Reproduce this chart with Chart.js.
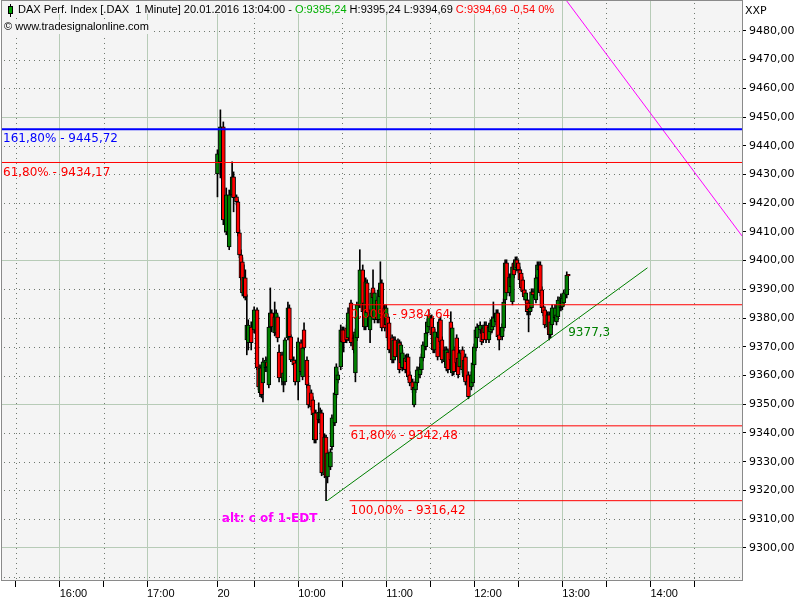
<!DOCTYPE html>
<html>
<head>
<meta charset="utf-8">
<script src="https://cdn.jsdelivr.net/npm/chart.js@4.4.1/dist/chart.umd.min.js"></script>
<style>
  html, body { margin: 0; padding: 0; background: #fff; }
  #wrap { width: 800px; height: 600px; }
</style>
</head>
<body>
<div id="wrap"><canvas id="chart" width="800" height="600"></canvas></div>
<script>
// minutes after 09:00 on 20.01.2016 (previous day negative)
const times = [5,7,9,11,13,15,16,18,19,20, 21,22,23,24,25,26,28,30,32,33,
  34,35,36,38,39,40,41,42,44,45, 46,47,49,50,51,53,54,55,57,58,
  60,62,63,64,66,67,69,70,71,72, 74,75,76,78,79,80,82,83,85,86,
  87,89,90,91,93,94,96,98,99,100, 102,104,105,106,107,109,110,111,112,114,
  115,116,117,119,120,121,122,124,125,126, 128,129,130,131,133,134,135,136,138,139,
  140,141,143,144,145,147,148,149,151,152, 153,155,156,157,158,160,161,162,164,165,
  166,168,169,170,172,173,174,176,178,179, 180,181,182,184,185,186,187,188,190,191,
  192,193,195,196,197,199,200,201,202,204, 205,206,207,208,209,210,211,212,213,214,
  215,216,217,218,219,220,222,223,224,225, 226,227,228,230,231,232,233,235,236,237,
  239,240,241,243,244];

const opens = [9430.2,9434.4,9446.6,9410.0,9404.8,9422.9,9429.2,9422.2,9420.5,9409.7,
  9402.0,9399.6,9388.1,9394.0,9372.4,9371.4,9376.9,9375.9,9382.9,9363.0,
  9354.0,9362.7,9357.4,9362.7,9364.8,9356.7,9376.9,9381.8,9374.8,9374.8,
  9380.4,9368.2,9367.2,9357.8,9357.8,9373.1,9383.6,9373.5,9365.4,9364.4,
  9357.8,9371.4,9359.5,9375.9,9365.4,9356.7,9354.0,9351.5,9337.6,9347.0,
  9344.6,9344.6,9347.0,9325.4,9338.6,9324.7,9328.2,9335.2,9343.5,9353.3,
  9358.5,9363.0,9375.9,9375.9,9376.6,9373.1,9385.3,9373.1,9360.9,9373.1,
  9384.6,9396.8,9385.3,9376.9,9392.3,9375.9,9380.4,9390.5,9379.4,9386.3,
  9379.4,9387.4,9392.3,9383.6,9377.6,9380.4,9378.3,9373.1,9365.4,9372.4,
  9366.5,9371.4,9364.4,9362.7,9366.1,9364.8,9366.5,9360.2,9357.8,9349.8,
  9355.0,9357.4,9360.2,9362.0,9366.1,9370.0,9374.8,9376.9,9380.1,9376.9,
  9368.9,9373.5,9373.1,9379.4,9372.4,9364.8,9362.7,9368.2,9378.7,9360.9,
  9368.9,9373.1,9366.1,9363.0,9368.9,9359.5,9366.5,9360.2,9356.0,9357.4,
  9363.7,9369.6,9373.1,9375.9,9374.8,9376.6,9374.8,9377.6,9372.4,9375.2,
  9375.9,9376.9,9378.7,9381.8,9374.2,9373.5,9376.6,9386.3,9399.2,9388.8,
  9390.9,9385.6,9399.2,9396.8,9400.3,9399.2,9396.8,9395.7,9393.3,9389.8,
  9386.3,9386.3,9385.3,9382.2,9383.6,9389.1,9386.3,9394.0,9396.8,9398.5,
  9389.8,9383.9,9382.9,9376.9,9381.1,9374.2,9377.6,9380.1,9378.7,9380.4,
  9383.6,9383.9,9385.3,9388.1,9395.24];

const highs = [9438.6,9452.5,9448.3,9425.3,9424.6,9434.4,9430.9,9422.9,9421.2,9410.7,
  9403.8,9401.0,9398.5,9396.8,9388.1,9379.4,9378.7,9383.9,9383.6,9363.7,
  9363.7,9363.4,9366.1,9366.5,9366.1,9377.6,9390.5,9382.9,9385.6,9382.9,
  9381.1,9370.7,9368.2,9362.0,9373.1,9385.6,9384.6,9374.2,9366.5,9365.4,
  9373.1,9372.4,9370.7,9378.3,9366.5,9357.4,9355.0,9352.6,9348.0,9348.0,
  9350.5,9348.7,9348.0,9339.7,9339.3,9334.1,9334.5,9346.3,9355.0,9364.1,
  9361.3,9377.6,9376.9,9376.9,9377.6,9383.6,9386.3,9374.2,9376.2,9385.6,
  9403.8,9398.5,9386.3,9394.0,9393.3,9382.9,9389.8,9396.8,9389.8,9387.4,
  9390.9,9399.6,9393.3,9384.6,9384.6,9381.5,9379.4,9374.2,9373.5,9373.5,
  9372.8,9372.4,9371.7,9368.9,9367.2,9367.5,9367.5,9361.3,9358.8,9357.1,
  9358.8,9363.0,9364.1,9367.5,9371.7,9375.9,9379.7,9382.9,9381.1,9378.0,
  9376.2,9374.5,9379.7,9380.4,9373.5,9370.0,9370.0,9369.3,9382.2,9377.6,
  9370.0,9374.2,9367.2,9368.9,9370.0,9366.5,9367.5,9361.3,9361.3,9365.4,
  9371.0,9376.9,9378.0,9378.7,9375.9,9377.6,9378.7,9378.7,9378.0,9379.4,
  9380.4,9385.6,9382.9,9382.9,9375.2,9378.0,9386.7,9400.3,9400.3,9395.4,
  9395.4,9398.9,9400.3,9401.3,9401.3,9400.3,9397.8,9396.8,9394.3,9390.9,
  9389.8,9387.4,9386.3,9384.6,9390.2,9390.2,9395.0,9399.6,9399.6,9399.6,
  9390.9,9385.0,9383.9,9382.2,9382.2,9379.7,9384.6,9384.6,9382.2,9387.4,
  9388.4,9388.1,9389.8,9396.1,9395.24];

const lows = [9422.2,9428.8,9412.5,9409.0,9403.8,9422.2,9417.0,9419.4,9408.6,9401.0,
  9393.3,9387.7,9387.0,9386.3,9367.2,9368.9,9368.9,9374.8,9362.0,9355.0,
  9352.6,9352.2,9350.8,9361.3,9361.3,9355.7,9375.9,9375.2,9373.8,9374.2,
  9371.7,9357.8,9356.7,9354.3,9356.7,9372.4,9372.4,9364.8,9362.7,9356.7,
  9351.5,9360.2,9358.5,9368.9,9355.7,9348.7,9348.0,9345.3,9336.5,9336.5,
  9343.5,9343.5,9325.1,9324.4,9316.42,9322.6,9327.2,9334.1,9342.5,9352.2,
  9357.4,9362.0,9370.7,9368.2,9371.4,9372.1,9370.3,9367.9,9357.8,9372.1,
  9383.6,9381.1,9375.9,9375.9,9380.8,9371.4,9379.4,9386.0,9378.3,9378.3,
  9378.3,9386.3,9375.5,9375.5,9376.6,9372.1,9367.9,9364.4,9364.4,9365.4,
  9365.4,9360.9,9363.4,9361.6,9360.9,9363.7,9358.5,9356.4,9354.0,9349.1,
  9354.0,9356.4,9359.2,9360.9,9365.1,9368.9,9373.8,9375.9,9373.1,9367.9,
  9367.9,9365.4,9372.1,9370.7,9364.4,9363.7,9361.6,9360.9,9364.4,9359.9,
  9360.2,9363.4,9359.2,9362.0,9360.9,9358.5,9356.7,9351.9,9355.0,9356.4,
  9362.7,9368.6,9372.1,9374.8,9370.7,9371.4,9373.8,9371.4,9371.4,9374.2,
  9374.8,9375.9,9377.6,9372.4,9368.9,9372.4,9375.5,9385.3,9387.7,9387.7,
  9389.8,9384.6,9394.0,9395.7,9396.4,9395.7,9392.3,9389.5,9388.1,9386.3,
  9385.3,9381.1,9375.2,9381.1,9382.5,9387.0,9385.3,9393.0,9395.7,9387.7,
  9382.5,9380.8,9376.6,9375.9,9372.4,9373.1,9376.6,9379.0,9377.6,9379.4,
  9382.5,9382.9,9384.3,9387.0,9394.69];

const closes = [9437.2,9446.6,9414.2,9422.9,9422.9,9429.2,9421.9,9420.5,9409.7,9402.0,
  9394.0,9388.8,9394.3,9387.4,9377.6,9377.6,9371.4,9382.9,9362.7,9356.0,
  9362.7,9353.3,9364.8,9365.4,9363.0,9376.9,9381.8,9376.9,9380.4,9381.8,
  9373.1,9359.2,9359.2,9360.9,9372.4,9383.6,9373.5,9365.4,9363.7,9357.8,
  9371.7,9361.3,9369.6,9369.6,9356.7,9349.8,9349.1,9346.3,9347.0,9337.6,
  9347.3,9347.3,9326.1,9338.6,9324.7,9333.1,9333.4,9345.3,9354.0,9363.0,
  9360.2,9375.9,9371.7,9371.4,9372.4,9381.8,9371.4,9368.9,9375.2,9384.6,
  9396.8,9382.2,9376.9,9392.6,9381.8,9381.8,9388.8,9387.0,9388.8,9379.4,
  9389.8,9392.3,9376.6,9376.6,9383.6,9373.1,9368.9,9365.4,9372.4,9366.5,
  9371.7,9362.0,9370.7,9367.9,9362.0,9366.5,9359.5,9357.4,9355.0,9356.0,
  9357.8,9362.0,9363.0,9366.5,9370.7,9374.8,9378.7,9381.1,9374.2,9368.9,
  9375.2,9366.5,9378.7,9371.7,9365.4,9368.9,9368.9,9362.0,9365.4,9376.6,
  9361.3,9364.4,9360.2,9367.9,9362.0,9365.4,9357.8,9352.6,9360.2,9364.4,
  9370.0,9375.9,9376.9,9377.6,9371.7,9372.4,9377.6,9372.4,9376.9,9378.3,
  9379.4,9380.1,9381.8,9373.5,9372.4,9376.9,9385.6,9399.2,9388.8,9394.3,
  9394.3,9397.8,9395.0,9400.3,9397.5,9396.8,9393.3,9390.5,9389.1,9387.4,
  9388.8,9382.2,9382.9,9383.6,9389.1,9388.1,9394.0,9398.5,9398.5,9388.8,
  9383.6,9381.8,9377.6,9381.1,9374.2,9378.7,9383.6,9383.6,9381.1,9386.3,
  9387.4,9387.0,9388.8,9395.0,9394.69];

// axis ticks
const xTickValues = [-132.5, -102.5, -72.5, -43, 5, 30, 60, 90, 120, 150, 180, 210, 240, 270, 300, 330];
const xTickLabels = ['', '16:00', '', '17:00', '20', '', '10:00', '', '11:00', '', '12:00', '', '13:00', '', '14:00', ''];
const yTickValues = [9290, 9300, 9310, 9320, 9330, 9340, 9350, 9360, 9370, 9380, 9390,
  9400, 9410, 9420, 9430, 9440, 9450, 9460, 9470, 9480];

// fibonacci levels
const fibLevels = [9445.72, 9434.17, 9384.64, 9342.48, 9316.42];
const fibNames = ['161,80%', '61,80%', '0,00%', '61,80%', '100,00%'];
const fibStart = [-141.8, -141.8, 95, 95, 95];
const fibColors = ['#0000ff', '#ff0000', '#ff0000', '#ff0000', '#ff0000'];
const fibWidths = [2, 1, 1, 1, 1];

// trend line and the other drawn line
const trendTimes = [79.8, 298];
const trendValues = [9316.42, 9397.5];
const trendLabel = '9377,3';
const edtTimes = [243, 362.4];
const edtValues = [9490.4, 9408.6];
const noteText = 'alt: c of 1-EDT';
const noteTime = 8, noteValue = 9310;

const X_MIN = -141.8, X_MAX = 362.4, Y_MIN = 9288.8, Y_MAX = 9490.4;
const PLOT_BG = '#f4f4f4';
const GRID_SOLID = '#b7cbb7';
const GRID_DOT = '#6f786f';

const fmt = v => v.toFixed(2).replace('.', ',');

const wickData = times.map((t, i) => ({ x: t, y: [lows[i], highs[i]] }));
const bodyData = times.map((t, i) => ({ x: t, y: [opens[i], closes[i]] }));
const bodyColors = times.map((t, i) => closes[i] >= opens[i] ? '#008000' : '#ff0000');

const datasets = [
  { type: 'bar', data: wickData, backgroundColor: '#000', borderWidth: 0,
    barThickness: 1, grouped: false, order: 3 },
  { type: 'bar', data: bodyData, backgroundColor: bodyColors, borderColor: '#000',
    borderWidth: 1, borderSkipped: false, barThickness: 4, grouped: false, order: 2 }
];
fibLevels.forEach((lvl, i) => {
  datasets.push({ type: 'line', data: [{ x: fibStart[i], y: lvl }, { x: X_MAX, y: lvl }],
    borderColor: fibColors[i], borderWidth: fibWidths[i], pointRadius: 0, order: 1 });
});
datasets.push({ type: 'line', data: trendTimes.map((t, i) => ({ x: t, y: trendValues[i] })),
  borderColor: '#008000', borderWidth: 1, pointRadius: 0, order: 1 });
datasets.push({ type: 'line', data: edtTimes.map((t, i) => ({ x: t, y: edtValues[i] })),
  borderColor: '#ff00ff', borderWidth: 1, pointRadius: 0, order: 1 });

const noPad = s => { s.paddingTop = 0; s.paddingBottom = 0; s.paddingLeft = 0; s.paddingRight = 0; };
const isDotY = v => v % 50 !== 0;
const isDotX = i => !xTickLabels[i];

const overlay = {
  id: 'overlay',
  beforeDraw(chart) {
    const { ctx, chartArea: a } = chart;
    ctx.save();
    ctx.fillStyle = '#fff';
    ctx.fillRect(0, 0, chart.width, chart.height);
    ctx.fillStyle = PLOT_BG;
    ctx.fillRect(a.left, a.top, a.right - a.left, a.bottom - a.top);
    ctx.restore();
  },
  beforeDatasetsDraw(chart) {
    // dotted minor grid, placed by the scales
    const { ctx, chartArea: a } = chart;
    const xs = chart.scales.x, ys = chart.scales.y;
    ctx.save();
    ctx.fillStyle = GRID_DOT;
    yTickValues.forEach(v => {
      if (!isDotY(v)) return;
      const py = Math.round(ys.getPixelForValue(v));
      for (let px = Math.ceil(a.left) + 2; px < a.right; px += 5) ctx.fillRect(px, py, 1, 1);
    });
    xTickValues.forEach((v, i) => {
      if (!isDotX(i)) return;
      const px = Math.round(xs.getPixelForValue(v));
      for (let py = Math.ceil(a.top) + 2; py < a.bottom; py += 5) ctx.fillRect(px, py, 1, 1);
    });
    ctx.restore();
  },
  afterDatasetsDraw(chart) {
    const { ctx } = chart;
    const xs = chart.scales.x, ys = chart.scales.y;
    ctx.save();
    ctx.textBaseline = 'middle';
    ctx.textAlign = 'left';
    ctx.font = '12px "DejaVu Sans"';
    fibLevels.forEach((lvl, i) => {
      const x = Math.max(xs.getPixelForValue(fibStart[i]), chart.chartArea.left) + 1;
      ctx.fillStyle = fibColors[i];
      ctx.fillText(fibNames[i] + ' - ' + fmt(lvl), x, ys.getPixelForValue(lvl) + 10);
    });
    const lastT = times[times.length - 1];
    const k = (lastT - trendTimes[0]) / (trendTimes[1] - trendTimes[0]);
    const tv = trendValues[0] + k * (trendValues[1] - trendValues[0]);
    ctx.fillStyle = '#008000';
    ctx.fillText(trendLabel, xs.getPixelForValue(lastT), ys.getPixelForValue(tv) + 7);
    ctx.font = 'bold 12px "DejaVu Sans"';
    ctx.fillStyle = '#ff00ff';
    ctx.fillText(noteText, xs.getPixelForValue(noteTime), ys.getPixelForValue(noteValue));
    ctx.restore();
  },
  afterDraw(chart) {
    const { ctx, chartArea: a } = chart;
    ctx.save();
    // frame
    ctx.strokeStyle = '#8a8a8a';
    ctx.lineWidth = 1;
    ctx.strokeRect(a.left - 0.5, a.top - 0.5, a.right - a.left + 1, a.bottom - a.top + 1);

    // header line 1
    const parts = [
      ['DAX Perf. Index [.DAX  1 Minute] 20.01.2016 13:04:00 - ', '#000'],
      ['O:9395,24', '#00b000'],
      [' H:9395,24 L:9394,69 ', '#000'],
      ['C:9394,69 -0,54 0%', '#ff0000']
    ];
    ctx.font = '11px "Liberation Sans"';
    let w = parts.reduce((s, p) => s + ctx.measureText(p[0]).width, 0);
    const size = 11 * 537 / w;
    ctx.font = size.toFixed(2) + 'px "Liberation Sans"';
    ctx.fillStyle = PLOT_BG;
    ctx.fillRect(a.left, a.top, 556 - a.left, 13);
    ctx.textBaseline = 'middle';
    ctx.textAlign = 'left';
    let x = 18;
    parts.forEach(p => {
      ctx.fillStyle = p[1];
      ctx.fillText(p[0], x, 10);
      x += ctx.measureText(p[0]).width;
    });
    // small candle icon
    ctx.fillStyle = '#000';
    ctx.fillRect(10, 4, 1, 13);
    ctx.fillRect(8, 6, 5, 8);
    ctx.fillStyle = '#00a000';
    ctx.fillRect(9, 7, 3, 6);

    // header line 2
    const src = '\u00a9 www.tradesignalonline.com';
    ctx.font = '11px "Liberation Sans"';
    const s2 = 11 * 145 / ctx.measureText(src).width;
    ctx.font = s2.toFixed(2) + 'px "Liberation Sans"';
    ctx.fillStyle = PLOT_BG;
    ctx.fillRect(a.left, 20, 150, 14);
    ctx.fillStyle = '#000';
    ctx.fillText(src, 4, 27);

    // axis caption
    ctx.font = '11px "DejaVu Sans"';
    ctx.fillText('XXP', 745, 11);
    ctx.restore();
  }
};

new Chart(document.getElementById('chart'), {
  type: 'bar',
  data: { datasets },
  plugins: [overlay],
  options: {
    responsive: false,
    animation: false,
    devicePixelRatio: 1,
    layout: { padding: { left: 2, top: 1, right: 0, bottom: 0 } },
    plugins: { legend: { display: false }, tooltip: { enabled: false } },
    scales: {
      x: {
        type: 'linear',
        min: X_MIN,
        max: X_MAX,
        offset: false,
        afterBuildTicks: s => { s.ticks = xTickValues.map(v => ({ value: v })); },
        afterFit: s => { s.height = 20; noPad(s); },
        ticks: {
          autoSkip: false, maxRotation: 0, minRotation: 0, align: 'start', padding: 0,
          color: '#000', font: { family: 'Liberation Sans', size: 11 },
          callback: (v, i) => xTickLabels[i]
        },
        grid: {
          offset: false,
          color: c => isDotX(c.index) ? 'rgba(0,0,0,0)' : GRID_SOLID,
          lineWidth: 1, drawTicks: true, tickLength: 7, tickColor: '#000'
        },
        border: { display: false }
      },
      y: {
        type: 'linear',
        position: 'right',
        min: Y_MIN,
        max: Y_MAX,
        afterBuildTicks: s => { s.ticks = yTickValues.map(v => ({ value: v })); },
        afterFit: s => { s.width = 58; noPad(s); },
        ticks: {
          padding: 3, color: '#000', font: { family: 'DejaVu Sans', size: 11 },
          callback: v => v < 9300 ? '' : fmt(v)
        },
        grid: {
          offset: false,
          color: c => (c.tick && isDotY(c.tick.value)) ? 'rgba(0,0,0,0)' : GRID_SOLID,
          lineWidth: 1, drawTicks: true, tickLength: 4,
          tickColor: c => (c.tick && c.tick.value < 9300) ? 'rgba(0,0,0,0)' : '#000'
        },
        border: { display: false }
      }
    }
  }
});
</script>
</body>
</html>
